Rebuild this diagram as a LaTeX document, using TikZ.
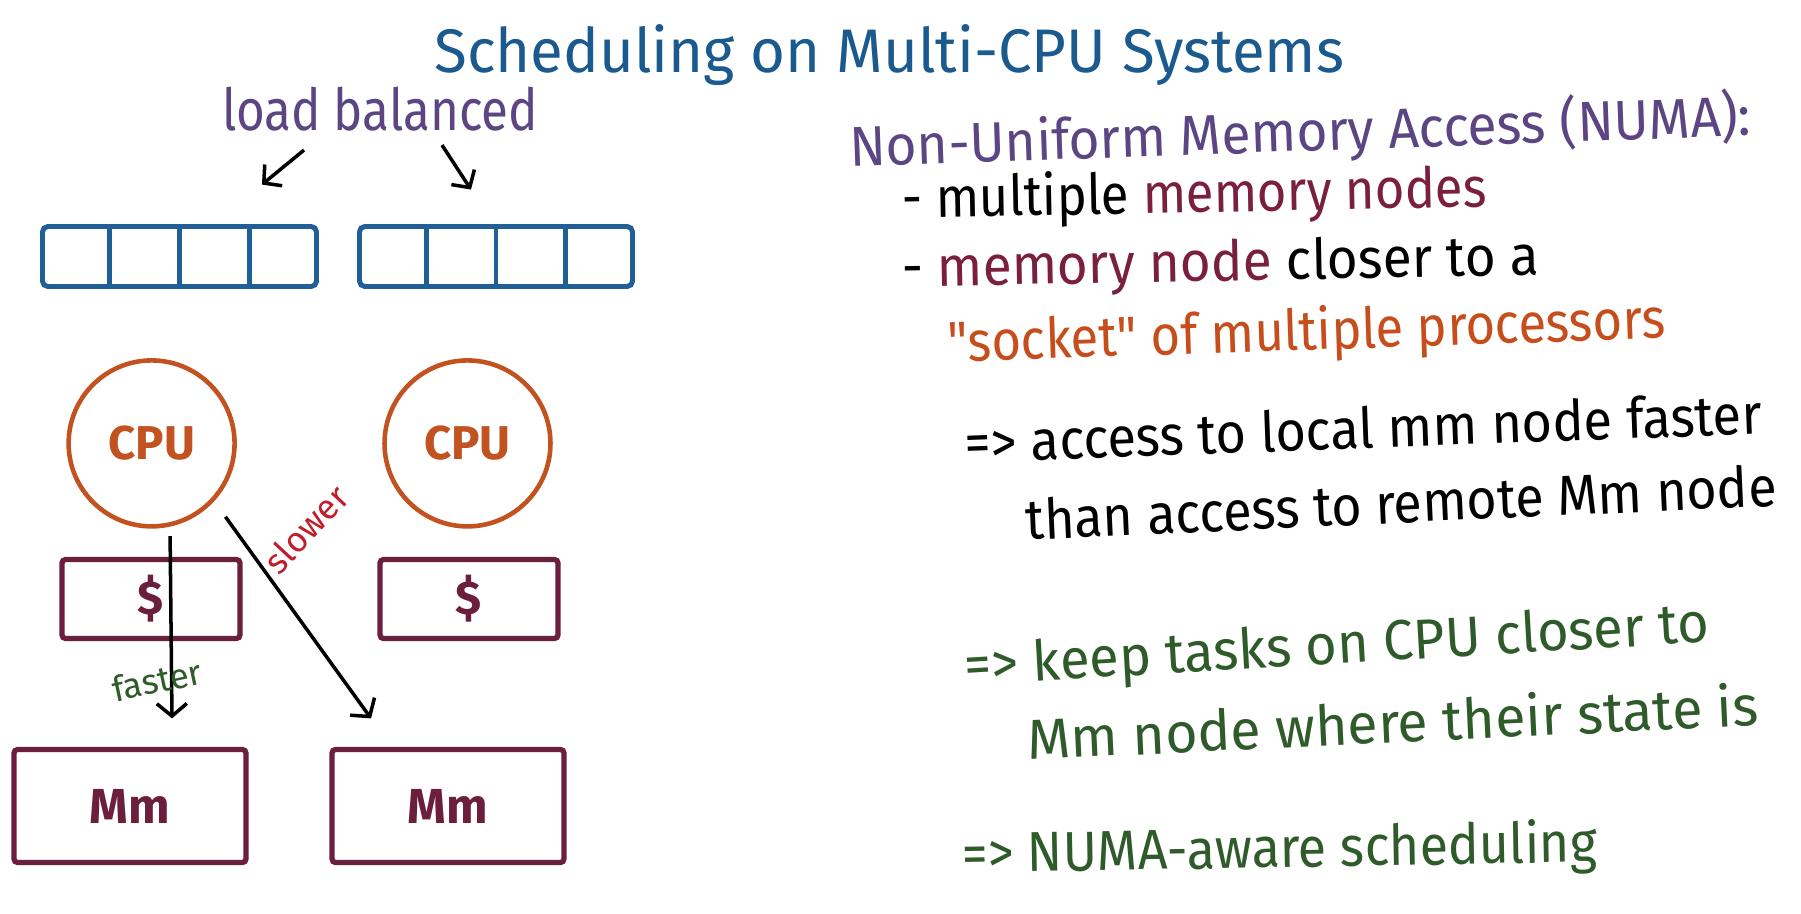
\documentclass[tikz,border=0pt]{standalone}
\usepackage{fontspec}
\setmainfont{Fira Sans}
\usepackage{graphicx}
\usetikzlibrary{arrows.meta,calc}
\definecolor{titleblue}{HTML}{1B5A8E}
\definecolor{qblue}{HTML}{1F5E96}
\definecolor{lbpurple}{HTML}{5B4583}
\definecolor{cpuorange}{HTML}{C2521F}
\definecolor{boxmaroon}{HTML}{6B1F3C}
\definecolor{memred}{HTML}{7A1F3D}
\definecolor{sockorange}{HTML}{C54E1C}
\definecolor{handgreen}{HTML}{2F5B2A}
\definecolor{slowred}{HTML}{C01F2A}
\newcommand{\hw}[2]{\resizebox{#1}{\height}{#2}}
\begin{document}
\begin{tikzpicture}[x=0.02cm,y=-0.02cm,
  hand/.style={inner sep=0pt, anchor=base west, font=\fontsize{32}{38}\selectfont},
  queuebox/.style={rectangle, draw=qblue, line width=2.8pt, rounded corners=3pt, minimum height=1.2cm, inner sep=0pt},
  qline/.style={draw=qblue, line width=2.8pt},
  cpunode/.style={circle, draw=cpuorange, line width=2.6pt, minimum size=3.32cm, inner sep=0pt, text=cpuorange, font=\fontsize{27}{30}\selectfont\bfseries},
  cachebox/.style={rectangle, draw=boxmaroon, line width=3pt, rounded corners=2pt, minimum width=3.56cm, minimum height=1.58cm, inner sep=0pt, text=boxmaroon, font=\fontsize{27}{30}\selectfont\bfseries},
  membox/.style={rectangle, draw=boxmaroon, line width=3pt, rounded corners=2pt, minimum width=4.64cm, minimum height=2.26cm, inner sep=0pt, text=boxmaroon, font=\fontsize{28}{30}\selectfont\bfseries},
  bigarrow/.style={black, line width=2pt, -{Straight Barb[length=0.25cm,width=0.6cm]}},
  lbarrow/.style={black, line width=2pt, -{Straight Barb[length=0.25cm,width=0.55cm]}},
  smalllabel/.style={inner sep=0pt, font=\fontsize{20}{22}\selectfont}
]
\useasboundingbox (0,0) rectangle (1801,913);
\fill[white] (0,0) rectangle (1801,913);

% title
\node[hand, text=titleblue, font=\fontsize{35}{40}\selectfont] (title) at (434,72) {\hw{18.2cm}{Scheduling on Multi-CPU Systems}};

% load balanced
\node[inner sep=0pt, anchor=base, text=lbpurple, font=\fontsize{33}{38}\selectfont] (lb) at (380,130) {\hw{6.32cm}{load balanced}};

% queues
\node[queuebox, minimum width=5.48cm] (q1) at (179.5,256.5) {};
\node[queuebox, minimum width=5.46cm] (q2) at (496,256.5) {};
\foreach \q in {q1,q2}{
  \foreach \f in {0.25,0.5,0.75}{
    \draw[qline] ($(\q.north west)!\f!(\q.north east)$) -- ($(\q.south west)!\f!(\q.south east)$);
  }
}
\draw[lbarrow] ([xshift=-1.52cm,yshift=-0.38cm]lb.south) -- ([xshift=1.65cm,yshift=0.79cm]q1.north);
\draw[lbarrow] ([xshift=1.24cm,yshift=-0.28cm]lb.south) -- ([xshift=-0.5cm,yshift=0.69cm]q2.north);

% CPUs, caches, memories
\node[cpunode] (cpu1) at (151.6,443.4) {CPU};
\node[cpunode] (cpu2) at (467.5,443.4) {CPU};
\node[cachebox] (c1) at (151,599) {\$};
\node[cachebox] (c2) at (469,599) {\$};
\node[membox] (m1) at (130,806) {Mm};
\node[membox] (m2) at (448,806) {Mm};

\draw[bigarrow] ([xshift=0.37cm,yshift=-0.15cm]cpu1.south) -- ([xshift=0.84cm,yshift=0.57cm]m1.north);
\draw[bigarrow] ([xshift=0.27cm,yshift=-0.26cm]cpu1.-45) -- ([xshift=-1.54cm,yshift=0.57cm]m2.north);
\node[smalllabel, text=handgreen, rotate=12] (fast) at (157,680) {faster};
\node[smalllabel, text=slowred, rotate=47] (slow) at (306,529) {slower};

% right text
\node[hand, text=lbpurple, rotate=2] (numa) at (850,167) {\hw{18.04cm}{Non-Uniform Memory Access (NUMA):}};
\node[hand, rotate=1.1] (l1) at (902,218) {\hw{11.7cm}{- multiple \textcolor{memred}{memory nodes}}};
\node[hand, rotate=1.1] (l2) at (902,287) {\hw{12.74cm}{- \textcolor{memred}{memory node} closer to a}};
\node[hand, text=sockorange, rotate=1.9] (l3) at (948,362) {\hw{14.36cm}{\textquotedbl socket\textquotedbl\ of multiple processors}};
\node[hand, rotate=2.1] (l4) at (965,463) {\hw{15.96cm}{=> access to local mm node faster}};
\node[hand, rotate=2.6] (l5) at (1026,540) {\hw{15.04cm}{than access to remote Mm node}};
\node[hand, text=handgreen, rotate=3.3] (l6) at (965,685) {\hw{14.92cm}{=> keep tasks on CPU closer to}};
\node[hand, text=handgreen, rotate=2.7] (l7) at (1028,760) {\hw{14.64cm}{Mm node where their state is}};
\node[hand, text=handgreen, rotate=1] (l8) at (962,873) {\hw{12.7cm}{=> NUMA-aware scheduling}};
\end{tikzpicture}
\end{document}
